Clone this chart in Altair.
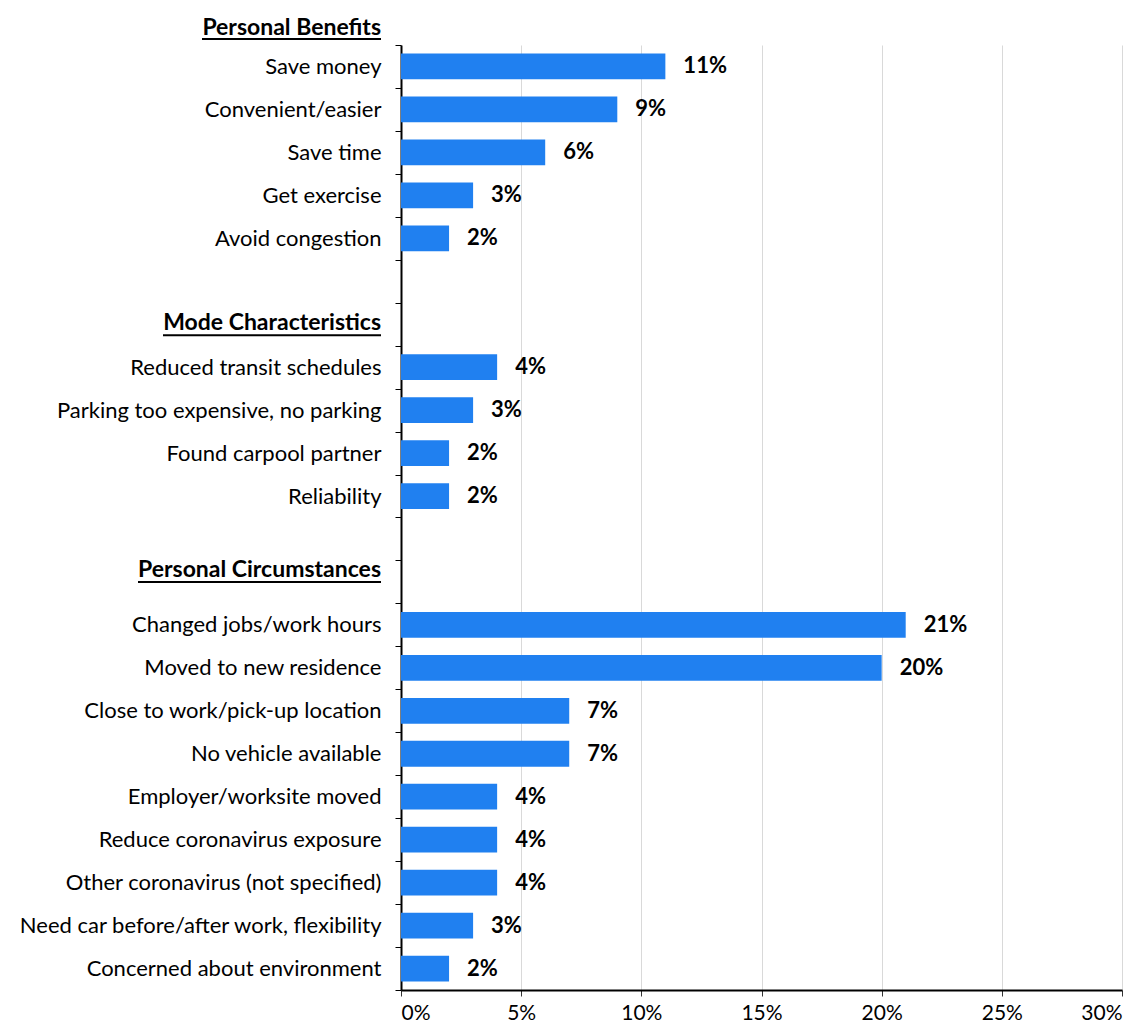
import altair as alt
import pandas as pd

# ---- data ----
group_names = ["Personal Benefits", "Mode Characteristics", "Personal Circumstances"]

benefit_labels = ["Save money", "Convenient/easier", "Save time", "Get exercise", "Avoid congestion"]
benefit_values = [11, 9, 6, 3, 2]

mode_labels = ["Reduced transit schedules", "Parking too expensive, no parking",
               "Found carpool partner", "Reliability"]
mode_values = [4, 3, 2, 2]

circ_labels = ["Changed jobs/work hours", "Moved to new residence", "Close to work/pick-up location",
               "No vehicle available", "Employer/worksite moved", "Reduce coronavirus exposure",
               "Other coronavirus (not specified)", "Need car before/after work, flexibility",
               "Concerned about environment"]
circ_values = [21, 20, 7, 7, 4, 4, 4, 3, 2]

x_ticks = [0, 5, 10, 15, 20, 25, 30]

# ---- styling ----
FONT = "Lato"
FS = 22
HFS = 23
BAR_COLOR = "#2080F0"
LABEL_GAP = 20  # gap between axis line and right edge of labels

gap_rows = ["gap1", "gap2"]
rows = (benefit_labels + [gap_rows[0], group_names[1]] + mode_labels
        + [gap_rows[1], group_names[2]] + circ_labels)

bars = pd.DataFrame({
    "label": benefit_labels + mode_labels + circ_labels,
    "value": benefit_values + mode_values + circ_values,
})
bars["txt"] = bars["value"].astype(str) + "%"

blank_expr = "indexof(" + str(gap_rows + group_names[1:]) + ", datum.value) >= 0 ? '' : datum.value"

Y = alt.Y("label:N", sort=rows,
          scale=alt.Scale(domain=rows, paddingInner=0, paddingOuter=0),
          axis=alt.Axis(title=None, labelExpr=blank_expr, labelFont=FONT, labelFontSize=FS,
                        labelColor="black", labelPadding=LABEL_GAP - 6, labelLimit=0,
                        tickBand="extent", tickSize=6, tickColor="black", tickWidth=1,
                        domainColor="black", domainWidth=2, grid=False))

X = alt.X("value:Q", scale=alt.Scale(domain=[0, 30], nice=False),
          axis=alt.Axis(title=None, values=x_ticks, labelExpr="datum.value + '%'",
                        labelFont=FONT, labelFontSize=21, labelColor="black", labelPadding=6,
                        tickSize=6, tickColor="#333333", tickWidth=1,
                        domainColor="black", domainWidth=2,
                        grid=True, gridColor="#d9d9d9", gridWidth=1))

bar_layer = alt.Chart(bars).mark_bar(color=BAR_COLOR, height=alt.RelativeBandSize(0.6)).encode(
    x=X, y=Y)

value_layer = alt.Chart(bars).mark_text(
    align="left", baseline="middle", dx=18, font=FONT, fontSize=FS, fontWeight="bold",
    color="black").encode(x=alt.X("value:Q"), y=Y, text="txt:N")

layers = [bar_layer, value_layer]

# headers: (name, vertical nudge, underline width)
header_style = {
    "Mode Characteristics": (-1, 218),
    "Personal Circumstances": (-12, 243),
}
for name, (dy, w) in header_style.items():
    hd = pd.DataFrame({"label": [name]})
    layers.append(alt.Chart(hd).mark_text(
        align="right", baseline="middle", dy=dy, font=FONT, fontSize=HFS, fontWeight="bold",
        color="black").encode(x=alt.value(-LABEL_GAP), y=Y, text="label:N"))
    layers.append(alt.Chart(hd).mark_rule(color="black", strokeWidth=2, yOffset=dy + 12).encode(
        x=alt.value(-LABEL_GAP - w), x2=alt.value(-LABEL_GAP), y=Y))

# top header, above the plot area
top = pd.DataFrame({"label": [group_names[0]]})
layers.append(alt.Chart(top).mark_text(
    align="right", baseline="middle", font=FONT, fontSize=HFS, fontWeight="bold",
    color="black").encode(x=alt.value(-LABEL_GAP), y=alt.value(-17), text="label:N"))
layers.append(alt.Chart(top).mark_rule(color="black", strokeWidth=2).encode(
    x=alt.value(-LABEL_GAP - 179), x2=alt.value(-LABEL_GAP), y=alt.value(-6)))

chart = alt.layer(*layers).properties(
    width=721, height=945,
    padding={"top": 9, "left": 9, "right": 0, "bottom": 0},
).configure_view(stroke=None)

chart.save("out.html", embed_options={"renderer": "svg", "actions": False})
